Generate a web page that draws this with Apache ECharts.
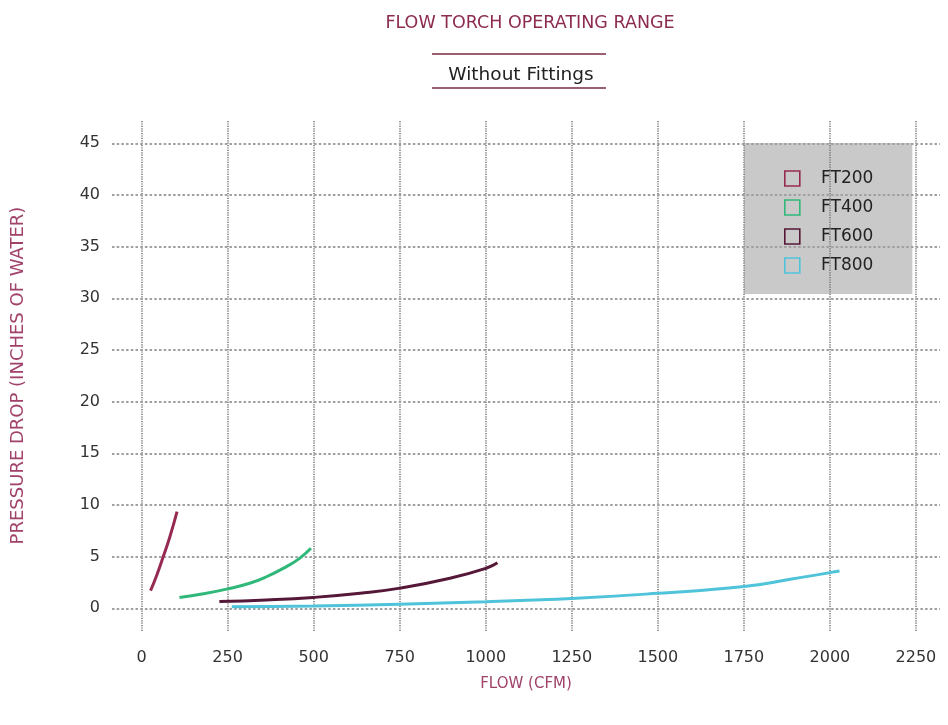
<!DOCTYPE html>
<html>
<head>
<meta charset="utf-8">
<script src="https://cdn.jsdelivr.net/npm/echarts@6/dist/echarts.min.js"></script>
<style>
html,body{margin:0;padding:0;background:#fff;}
#chart{width:948px;height:725px;}
</style>
</head>
<body>
<div id="chart"></div>
<script>
// ---- data ----
const seriesNames = ['FT200', 'FT400', 'FT600', 'FT800'];
const ft200 = [[26,1.7],[44,3.2],[63,5.0],[82,6.9],[103,9.35]];
const ft400 = [[110,1.05],[180,1.4],[247,1.85],[314,2.42],[363,3.05],[421,4.03],[460,4.85],[492,5.8]];
const ft600 = [[226,0.65],[363,0.8],[499,1.05],[635,1.45],[751,1.95],[896,2.9],[1003,3.9],[1034,4.4]];
const ft800 = [[262,0.15],[500,0.22],[750,0.4],[1000,0.64],[1250,0.95],[1500,1.45],[1750,2.1],[1885,2.8],[2000,3.45],[2028,3.6]];
const xTicks = [0,250,500,750,1000,1250,1500,1750,2000,2250];
const yTicks = [0,5,10,15,20,25,30,35,40,45];

const colors = ['#962a52', '#2fb87a', '#561838', '#4fc3da'];
const FONT = 'DejaVu Sans';

const chart = echarts.init(document.getElementById('chart'), null, {renderer:'canvas'});

const lineSeries = [ft200, ft400, ft600, ft800].map((d, i) => ({
  name: seriesNames[i],
  type: 'line',
  data: d,
  smooth: 0.5,
  showSymbol: false,
  symbol: 'none',
  lineStyle: {color: colors[i], width: 3},
  itemStyle: {color: colors[i]},
  z: 5
}));

const gridSeries = {
  name: '__grid',
  type: 'line',
  data: [],
  silent: true,
  z: 1,
  markLine: {
    silent: true,
    symbol: 'none',
    label: {show: false},
    animation: false,
    data: [
      ...xTicks.map(v => ({xAxis: v, lineStyle: {color: '#7a7a7a', type: [1.2, 1.2], width: 1.6}})),
      ...yTicks.map(v => ({yAxis: v, lineStyle: {color: '#a0a0a0', type: [2.5, 2.2], width: 2}}))
    ]
  }
};

chart.setOption({
  animation: false,
  backgroundColor: '#ffffff',
  textStyle: {fontFamily: FONT},
  title: [{
    text: 'FLOW TORCH OPERATING RANGE',
    left: 525, top: 9, textAlign: 'center',
    textStyle: {fontFamily: FONT, fontSize: 17.5, fontWeight: 'normal', color: '#8c2a50'}
  }, {
    text: 'Without Fittings',
    left: 516, top: 61, textAlign: 'center',
    textStyle: {fontFamily: FONT, fontSize: 18.5, fontWeight: 'normal', color: '#222'}
  }],
  graphic: [
    {type: 'line', shape: {x1: 432, y1: 54, x2: 606, y2: 54}, style: {stroke: '#7a2a40', lineWidth: 1.5}},
    {type: 'line', shape: {x1: 432, y1: 88, x2: 606, y2: 88}, style: {stroke: '#7a2a40', lineWidth: 1.5}}
  ],
  legend: {
    left: 744, top: 143,
    orient: 'vertical',
    backgroundColor: '#c9c9c9',
    padding: [27, 39, 20, 40],
    itemGap: 12,
    itemWidth: 15, itemHeight: 15,
    icon: 'rect',
    formatter: n => '   ' + n,
    textStyle: {fontFamily: FONT, fontSize: 17, color: '#222'},
    data: seriesNames.map((n, i) => ({
      name: n, icon: 'rect',
      itemStyle: {color: 'rgba(0,0,0,0)', borderColor: colors[i], borderWidth: 1.6}
    }))
  },
  grid: {left: 112, right: 8, top: 120, bottom: 94, containLabel: false},
  xAxis: {
    type: 'value', min: -86, max: 2320,
    name: 'FLOW (CFM)', nameLocation: 'middle', nameGap: 46,
    nameTextStyle: {fontFamily: FONT, fontSize: 15, color: '#a0426a'},
    axisLine: {show: false}, axisTick: {show: false}, splitLine: {show: false},
    axisLabel: {customValues: xTicks, formatter: v => String(v), fontFamily: FONT, fontSize: 16, color: '#333', margin: 19}
  },
  yAxis: {
    type: 'value', min: -2.2, max: 47.25,
    name: 'PRESSURE DROP (INCHES OF WATER)', nameLocation: 'middle', nameGap: 85,
    nameTextStyle: {fontFamily: FONT, fontSize: 18, color: '#a0426a'},
    axisLine: {show: false}, axisTick: {show: false}, splitLine: {show: false},
    axisLabel: {customValues: yTicks, formatter: v => String(v), fontFamily: FONT, fontSize: 16, color: '#333', margin: 12}
  },
  series: [gridSeries, ...lineSeries]
});
</script>
</body>
</html>
